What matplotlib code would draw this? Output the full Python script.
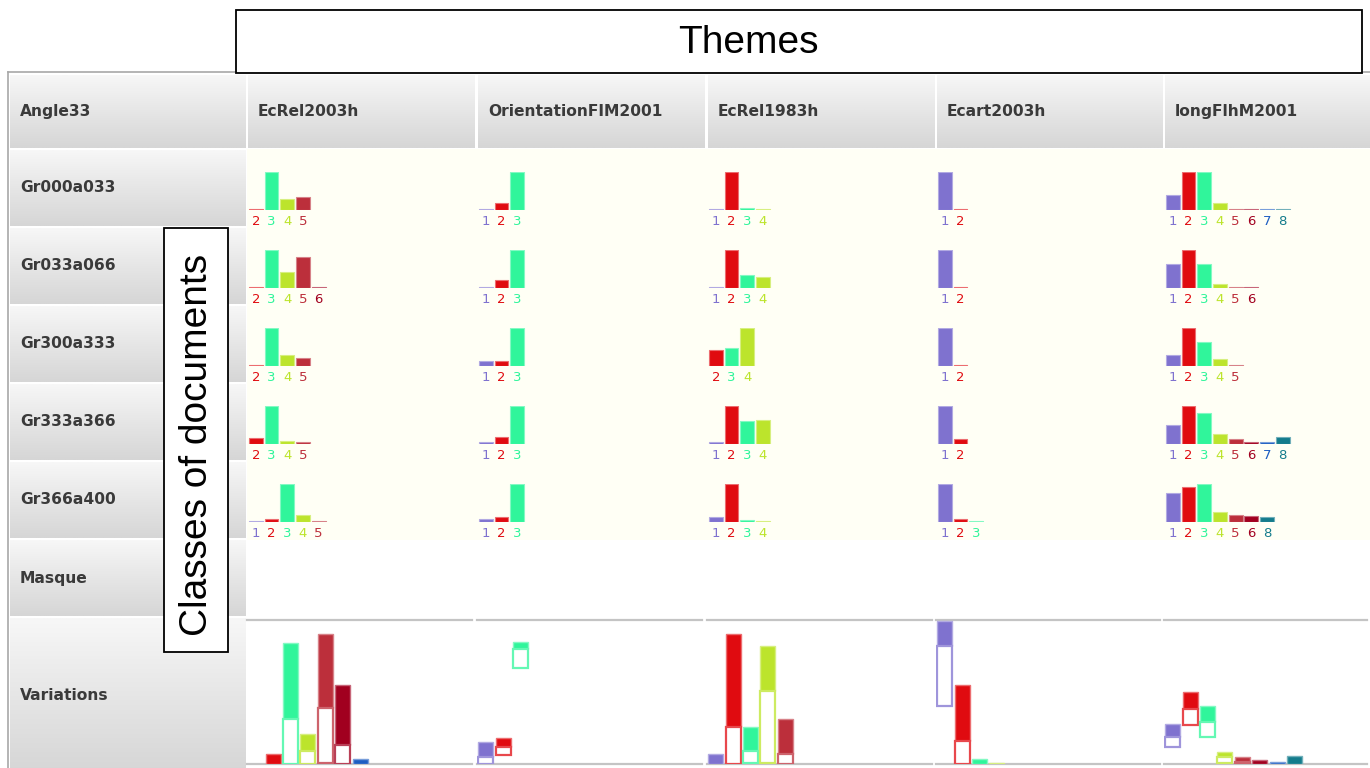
import numpy as np
import matplotlib
matplotlib.use('Agg')
import matplotlib.pyplot as plt
from matplotlib.patches import Rectangle
from matplotlib.colors import LinearSegmentedColormap, to_rgb

W, H = 1370, 768

corner = 'Angle33'
themes = ['EcRel2003h', 'OrientationFIM2001', 'EcRel1983h', 'Ecart2003h', 'longFlhM2001']
classes = ['Gr000a033', 'Gr033a066', 'Gr300a333', 'Gr333a366', 'Gr366a400', 'Masque', 'Variations']

cat_colors = {1: '#7f72cf', 2: '#e00b10', 3: '#30f59b', 4: '#bce42c',
              5: '#bc2f3b', 6: '#a1001f', 7: '#1e5ec2', 8: '#147c8c'}

# bars for the five Gr rows, height relative to the tallest bar of the cell
ecrel2003h_cats = [[2, 3, 4, 5], [2, 3, 4, 5, 6], [2, 3, 4, 5], [2, 3, 4, 5], [1, 2, 3, 4, 5]]
ecrel2003h_vals = [[0.02, 1, 0.30, 0.35], [0.03, 1, 0.43, 0.80, 0.03], [0.03, 1, 0.30, 0.22],
                   [0.15, 1, 0.09, 0.05], [0.03, 0.07, 1, 0.18, 0.03]]
orientation_cats = [[1, 2, 3], [1, 2, 3], [1, 2, 3], [1, 2, 3], [1, 2, 3]]
orientation_vals = [[0.03, 0.17, 1], [0.03, 0.22, 1], [0.14, 0.13, 1], [0.04, 0.17, 1], [0.08, 0.13, 1]]
ecrel1983h_cats = [[1, 2, 3, 4], [1, 2, 3, 4], [2, 3, 4], [1, 2, 3, 4], [1, 2, 3, 4]]
ecrel1983h_vals = [[0.02, 1, 0.05, 0.02], [0.03, 1, 0.33, 0.30], [0.43, 0.47, 1],
                   [0.04, 1, 0.59, 0.63], [0.13, 1, 0.06, 0.03]]
ecart2003h_cats = [[1, 2], [1, 2], [1, 2], [1, 2], [1, 2, 3]]
ecart2003h_vals = [[1, 0.02], [1, 0.03], [1, 0.03], [1, 0.14], [1, 0.08, 0.03]]
longflhm_cats = [[1, 2, 3, 4, 5, 6, 7, 8], [1, 2, 3, 4, 5, 6], [1, 2, 3, 4, 5],
                 [1, 2, 3, 4, 5, 6, 7, 8], [1, 2, 3, 4, 5, 6, 8]]
longflhm_vals = [[0.38, 1, 1, 0.17, 0.02, 0.02, 0.02, 0.02], [0.63, 1, 0.63, 0.10, 0.03, 0.03],
                 [0.30, 1, 0.63, 0.17, 0.03], [0.50, 1, 0.80, 0.25, 0.14, 0.05, 0.04, 0.17],
                 [0.76, 0.92, 1, 0.26, 0.18, 0.15, 0.13]]

# Variations row: (category, low, mid, high) in % of the panel height
ecrel2003h_var = [(2, 0, 0, 7), (3, 0, 31, 84), (4, 0, 9, 21), (5, 1, 39, 90), (6, 0, 13, 55), (7, 0, 0, 3.5)]
orientation_var = [(1, 0, 5, 15), (2, 6, 12, 18), (3, 67, 80, 85)]
ecrel1983h_var = [(1, 0, 0, 7), (2, 0, 26, 90), (3, 1, 9, 26), (4, 1, 51, 82), (5, 0, 7, 31)]
ecart2003h_var = [(1, 40, 82, 99), (2, 0, 16, 55), (3, 0, 0, 3.5), (4, 0, 0, 1)]
longflhm_var = [(1, 12, 19, 28), (2, 27, 38, 50), (3, 19, 29, 40), (4, 1, 5, 8),
                (5, 0, 1.5, 5), (6, 0, 0, 3), (7, 0, 0, 1.5), (8, 0, 0, 5.5)]

col_cats = [ecrel2003h_cats, orientation_cats, ecrel1983h_cats, ecart2003h_cats, longflhm_cats]
col_vals = [ecrel2003h_vals, orientation_vals, ecrel1983h_vals, ecart2003h_vals, longflhm_vals]
col_var = [ecrel2003h_var, orientation_var, ecrel1983h_var, ecart2003h_var, longflhm_var]

# layout in pixels
col_left = [10, 248, 478, 708, 937, 1165]
col_width = [236, 227, 227, 227, 226, 205]
header_top, header_h = 75, 73
row_top = [150, 228, 306, 384, 462, 540, 618]
row_h = [76, 76, 76, 76, 76, 76, 150]


def lighter(c, f=0.4):
    r = np.array(to_rgb(c))
    return tuple(r + (1 - r) * f)


def px_axes(fig, x, y, w, h):
    return fig.add_axes([x / W, 1 - (y + h) / H, w / W, h / H])


fig = plt.figure(figsize=(W / 100, H / 100), dpi=100)
bg = px_axes(fig, 0, 0, W, H)
bg.set_xlim(0, W)
bg.set_ylim(H, 0)
bg.axis('off')

gray = LinearSegmentedColormap.from_list('hdr', ['#f7f7f7', '#e6e6e6', '#d6d6d6'])
grad = np.linspace(0, 1, 64).reshape(-1, 1)


def gray_cell(x, y, w, h):
    bg.imshow(grad, extent=(x, x + w, y + h, y), cmap=gray, aspect='auto',
              interpolation='bilinear', zorder=1)


# table frame
bg.plot([8, 8], [72, H], color='#a8a8a8', lw=1.2, zorder=2)
bg.plot([8, W], [72, 72], color='#a8a8a8', lw=1.2, zorder=2)

# header row
gray_cell(col_left[0], header_top, col_width[0], header_h)
bg.text(col_left[0] + 10, header_top + header_h / 2, corner, fontsize=11.2,
        fontweight='bold', color='#3a3a3a', va='center', zorder=3)
for j, name in enumerate(themes):
    x = col_left[j + 1]
    gray_cell(x, header_top, col_width[j + 1], header_h)
    bg.text(x + 10, header_top + header_h / 2, name, fontsize=11.2,
            fontweight='bold', color='#3a3a3a', va='center', zorder=3)

# row labels
for i, name in enumerate(classes):
    h = row_h[i] if i < len(classes) - 1 else H - row_top[i] + 5
    gray_cell(col_left[0], row_top[i], col_width[0], h)
    bg.text(col_left[0] + 10, row_top[i] + min(row_h[i], 76) / 2 + (40 if i == 6 else 0), name,
            fontsize=11.2, fontweight='bold', color='#3a3a3a', va='center', zorder=3)

# ivory data area for the Gr rows
bg.add_patch(Rectangle((247, 149), W - 247, row_top[5] - 149, facecolor='#fffff5',
                       edgecolor='none', zorder=1))
bg.set_xlim(0, W)
bg.set_ylim(H, 0)

# mini bar charts
pitch = 15.7
for j in range(5):
    x0 = col_left[j + 1]
    for i in range(5):
        cats = col_cats[j][i]
        vals = col_vals[j][i]
        ax = px_axes(fig, x0, row_top[i] + 21.7, 200, 38.3)
        ax.set_xlim(-0.5, -0.5 + 200 / pitch)
        ax.set_ylim(0, 1)
        ax.axis('off')
        xs = np.arange(len(cats))
        cols = [cat_colors[c] for c in cats]
        ax.bar(xs, vals, width=0.88, color=cols,
               edgecolor=[lighter(c) for c in cols], linewidth=0.8)
        for k, c in enumerate(cats):
            ax.text(k, -0.12, str(c), transform=ax.get_xaxis_transform(), ha='center',
                    va='top', fontsize=9.5, color=cat_colors[c], clip_on=False)

# Variations row
vpitch = 17.4
for j in range(5):
    x0 = col_left[j + 1] - 1
    w = col_width[j + 1] - 2
    ax = px_axes(fig, x0, 620, w, 144)
    ax.set_xlim(0.5, 0.5 + w / vpitch)
    ax.set_ylim(0, 100)
    ax.set_facecolor('none')
    for s in ['left', 'right']:
        ax.spines[s].set_visible(False)
    for s in ['top', 'bottom']:
        ax.spines[s].set_color('#c4c4c4')
        ax.spines[s].set_linewidth(1.6)
    ax.set_xticks([])
    ax.set_yticks([])
    for cat, low, mid, high in col_var[j]:
        c = cat_colors[cat]
        ax.bar(cat, high - mid, bottom=mid, width=0.86, color=c,
               edgecolor=lighter(c), linewidth=1.0, zorder=3)
        if mid - low > 0:
            ax.bar(cat, mid - low, bottom=low, width=0.86, facecolor='white',
                   edgecolor=lighter(c, 0.25), linewidth=1.6, zorder=3)

# overlay boxes
box_ax = px_axes(fig, 0, 0, W, H)
box_ax.set_xlim(0, W)
box_ax.set_ylim(H, 0)
box_ax.axis('off')
box_ax.add_patch(Rectangle((236, 10), 1126, 63, facecolor='white', edgecolor='black', lw=1.3))
box_ax.text(748, 43, 'Themes', fontsize=28, family='Liberation Sans', ha='center', va='center')
box_ax.add_patch(Rectangle((164, 228), 64, 424, facecolor='white', edgecolor='black', lw=1.3))
box_ax.text(197, 445, 'Classes of documents', fontsize=28, family='Liberation Sans',
            rotation=90, ha='center', va='center')

fig.savefig('out.png', dpi=100)
